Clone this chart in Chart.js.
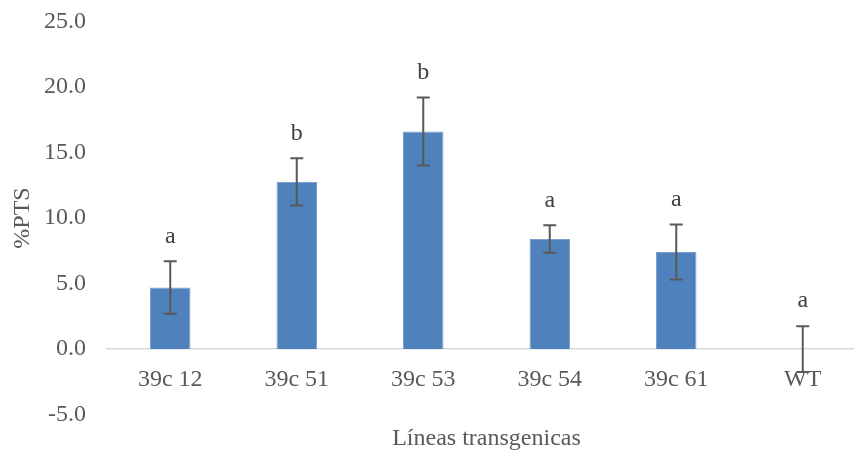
<!DOCTYPE html>
<html>
<head>
<meta charset="utf-8">
<script src="https://cdn.jsdelivr.net/npm/chart.js@4"></script>
<style>
  html, body { margin: 0; padding: 0; background: #fff; overflow: hidden; }
  #wrap { width: 872px; height: 464px; margin-top: -14px; }
</style>
</head>
<body>
<div id="wrap"><canvas id="ptsChart"></canvas></div>
<script>
// data
const lines = ['39c 12', '39c 51', '39c 53', '39c 54', '39c 61', 'WT'];
const ptsMean = [4.7, 12.75, 16.6, 8.4, 7.4, 0];
const ptsErr = [2.0, 1.8, 2.6, 1.05, 2.1, 1.75];
const groupLetters = ['a', 'b', 'b', 'a', 'a', 'a'];
const yTicks = [-5, 0, 5, 10, 15, 20, 25];

const textColor = '#595959';
const serif = 'Liberation Serif';

// error bars and significance letters
const errorBars = {
    id: 'errorBars',
    afterDatasetsDraw(chart) {
        const ctx = chart.ctx;
        const y = chart.scales.y;
        const meta = chart.getDatasetMeta(0);
        ctx.save();
        ctx.strokeStyle = '#595959';
        ctx.lineWidth = 2;
        meta.data.forEach((bar, i) => {
            const top = y.getPixelForValue(ptsMean[i] + ptsErr[i]);
            const bottom = y.getPixelForValue(ptsMean[i] - ptsErr[i]);
            const cap = 6.5;
            ctx.beginPath();
            ctx.moveTo(bar.x, top);
            ctx.lineTo(bar.x, bottom);
            ctx.moveTo(bar.x - cap, top);
            ctx.lineTo(bar.x + cap, top);
            ctx.moveTo(bar.x - cap, bottom);
            ctx.lineTo(bar.x + cap, bottom);
            ctx.stroke();

            ctx.fillStyle = '#404040';
            ctx.font = '24px "' + serif + '"';
            ctx.textAlign = 'center';
            ctx.textBaseline = 'middle';
            ctx.fillText(groupLetters[i], bar.x, top - 25);
        });
        ctx.restore();
    }
};

const ctx = document.getElementById('ptsChart').getContext('2d');
new Chart(ctx, {
    type: 'bar',
    data: {
        labels: lines,
        datasets: [{
            data: ptsMean,
            backgroundColor: '#4F81BD',
            borderColor: '#7DA0CC',
            borderWidth: 1,
            barPercentage: 0.32,
            categoryPercentage: 1.0
        }]
    },
    options: {
        responsive: true,
        maintainAspectRatio: false,
        animation: false,
        layout: { padding: { left: 6, right: 6, top: 0, bottom: 28 } },
        plugins: {
            legend: { display: false },
            tooltip: { enabled: false }
        },
        scales: {
            x: {
                position: { y: 0 },
                grid: { display: false, drawTicks: false },
                border: { display: true, color: '#d9d9d9', width: 1.5 },
                ticks: {
                    color: textColor,
                    font: { family: serif, size: 24 },
                    padding: 16
                },
                title: {
                    display: true,
                    text: 'Líneas transgenicas',
                    color: textColor,
                    font: { family: serif, size: 24 },
                    padding: { top: 14 }
                }
            },
            y: {
                min: -5,
                max: 25,
                afterBuildTicks(scale) {
                    scale.ticks = yTicks.map(v => ({ value: v }));
                },
                afterFit(scale) {
                    scale.width = 101;
                },
                grid: { display: false, drawTicks: false },
                border: { display: false },
                ticks: {
                    color: textColor,
                    font: { family: serif, size: 24 },
                    padding: 21,
                    callback: v => v.toFixed(1)
                },
                title: {
                    display: true,
                    text: '%PTS',
                    color: textColor,
                    font: { family: serif, size: 24 },
                    padding: { top: 2, bottom: 8 }
                }
            }
        }
    },
    plugins: [errorBars]
});
</script>
</body>
</html>
